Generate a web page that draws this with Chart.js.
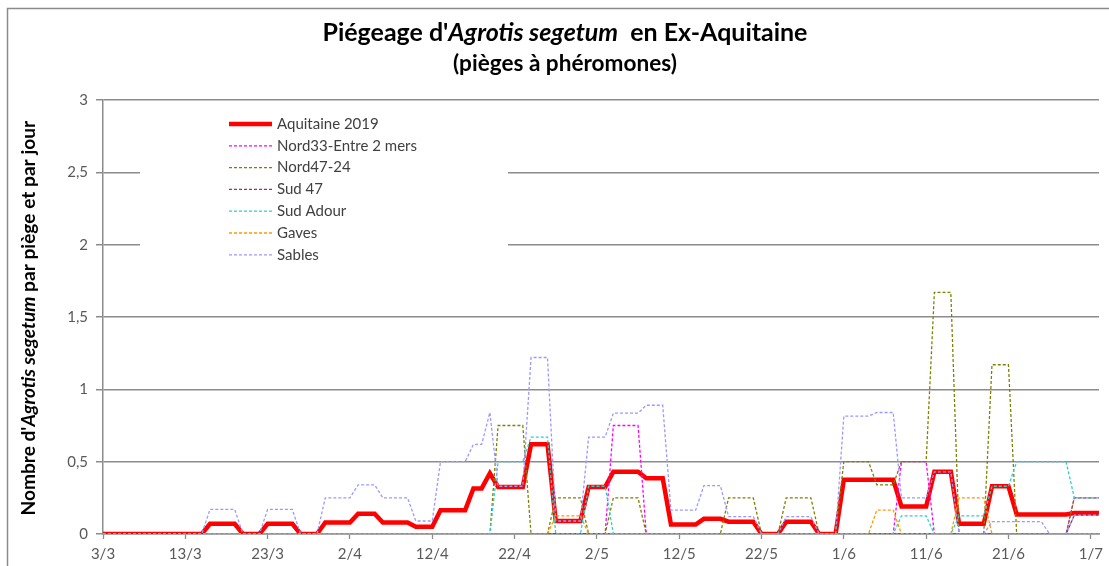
<!DOCTYPE html>
<html>
<head>
<meta charset="utf-8">
<script src="https://cdn.jsdelivr.net/npm/chart.js@4/dist/chart.umd.min.js"></script>
<style>
  html, body { margin: 0; padding: 0; background: #fff; }
  #wrap { width: 1109px; height: 566px; }
</style>
</head>
<body>
<div id="wrap"><canvas id="chart" width="1109" height="566"></canvas></div>
<script>
// one category per day, 3/3/2019 -> 2/7/2019
const days = [];
for (let d = new Date(2019, 2, 3); d <= new Date(2019, 6, 2); d.setDate(d.getDate() + 1)) {
    days.push(d.getDate() + '/' + (d.getMonth() + 1));
}
const tickLabels = ['3/3', '13/3', '23/3', '2/4', '12/4', '22/4', '2/5', '12/5', '22/5', '1/6', '11/6', '21/6', '1/7'];
const yTicks = [0, 0.5, 1, 1.5, 2, 2.5, 3];

// values, one per day
const aquitaine = [
    0,0,0,0,0,0,0,0,0,0,0,0,0,
    0.07,0.07,0.07,0.07, 0,0,0, 0.07,0.07,0.07,0.07, 0,0,0,
    0.08,0.08,0.08,0.08, 0.14,0.14,0.14, 0.08,0.08,0.08,0.08, 0.05,0.05,0.05,
    0.165,0.165,0.165,0.165, 0.315,0.315, 0.42, 0.325,0.325,0.325,0.325,
    0.62,0.62,0.62, 0.09,0.09,0.09,0.09, 0.325,0.325,0.325, 0.43,0.43,0.43,0.43,
    0.385,0.385,0.385, 0.065,0.065,0.065,0.065, 0.105,0.105,0.105, 0.085,0.085,0.085,0.085,
    0,0,0, 0.085,0.085,0.085,0.085, 0,0,0,
    0.375,0.375,0.375,0.375,0.375,0.375,0.375, 0.19,0.19,0.19,0.19, 0.43,0.43,0.43,
    0.07,0.07,0.07,0.07, 0.33,0.33,0.33,
    0.135,0.135,0.135,0.135,0.135,0.135,0.135, 0.145,0.145,0.145,0.145
];
const nord33 = [
    0,0,0,0,0,0,0,0,0,0,0,0,0,0,0,0,0,0,0,0,0,0,0,0,0,0,0,0,0,0,0,
    0,0,0,0,0,0,0,0,0,0,0,0,0,0,0,0,0,0,0,0,0,0,0,0,0,0,0,0,0,0,0,
    0.75,0.75,0.75,0.75,
    0,0,0,0,0,0,0,0,0,0,0,0,0,0,0,0,0,0,0,0,0,0,0,0,0,0,0,0,0,0,0,
    0.5,0.5,0.5,0.5,
    0,0,0,0,0,0,0,0,0,0,0,0,0,0,0,0,0,
    0.25,0.25,0.25,0.25
];
const nord47 = [
    0,0,0,0,0,0,0,0,0,0,0,0,0,0,0,0,0,0,0,0,0,0,0,0,
    0,0,0,0,0,0,0,0,0,0,0,0,0,0,0,0,0,0,0,0,0,0,0,0,
    0.75,0.75,0.75,0.75, 0,0,0, 0.25,0.25,0.25,0.25, 0,0,0, 0.25,0.25,0.25,0.25,
    0,0,0,0,0,0,0,0,0,0, 0.25,0.25,0.25,0.25, 0,0,0, 0.25,0.25,0.25,0.25, 0,0,0,
    0.5,0.5,0.5,0.5, 0.34,0.34,0.34, 0.5,0.5,0.5,0.5, 1.67,1.67,1.67,
    0,0,0,0, 1.17,1.17,1.17, 0,0,0,0,0,0,0, 0.25,0.25,0.25,0.25
];
const sud47 = [
    0,0,0,0,0,0,0,0,0,0,0,0,0,0,0,0,0,0,0,0,0,0,0,0,0,0,0,0,0,0,
    0,0,0,0,0,0,0,0,0,0,0,0,0,0,0,0,0,0,0,0,0,0,0,0,0,0,0,0,0,0,
    0,0,0,0,0,0,0,0,0,0,0,0,0,0,0,0,0,0,0,0,0,0,0,0,0,0,0,0,0,0,
    0,0,0,0,0,0,0,0,0,0,0,0,0,0,0,0,0,0,0,0,0,0,0,0,0,0,0,0,
    0.13,0.13,0.13,0.13
];
const sudAdour = [
    0,0,0,0,0,0,0,0,0,0,0,0,0,0,0,0,0,0,0,0,0,0,0,0,
    0,0,0,0,0,0,0,0,0,0,0,0,0,0,0,0,0,0,0,0,0,0,0,0,
    0.5,0.5,0.5,0.5, 0.67,0.67,0.67, 0,0,0,0, 0.33,0.33,0.33,
    0,0,0,0,0,0,0,0,0,0,0,0,0,0,0,0,0,0,0,0,0,0,0,0,0,0,0,0,0,0,0,0,0,0,0,
    0.125,0.125,0.125,0.125, 0,0,0, 0.125,0.125,0.125,0.125, 0.33,0.33,0.33,
    0.5,0.5,0.5,0.5,0.5,0.5,0.5, 0.25,0.25,0.25,0.25
];
const gaves = [
    0,0,0,0,0,0,0,0,0,0,0,0,0,0,0,0,0,0,0,0,0,0,0,0,0,0,0,0,
    0,0,0,0,0,0,0,0,0,0,0,0,0,0,0,0,0,0,0,0,0,0,0,0,0,0,0,
    0.125,0.125,0.125,0.125,
    0,0,0,0,0,0,0,0,0,0,0,0,0,0,0,0,0,0,0,0,0,0,0,0,0,0,0,0,0,0,0,0,0,0,0,
    0.165,0.165,0.165, 0,0,0,0,0,0,0, 0.25,0.25,0.25,0.25,
    0,0,0,0,0,0,0,0,0,0,0,0,0,0
];
const sables = [
    0,0,0,0,0,0,0,0,0,0,0,0,0,
    0.17,0.17,0.17,0.17, 0,0,0, 0.17,0.17,0.17,0.17, 0,0,0,
    0.25,0.25,0.25,0.25, 0.34,0.34,0.34, 0.25,0.25,0.25,0.25, 0.09,0.09,0.09,
    0.5,0.5,0.5,0.5, 0.62,0.62, 0.84, 0.33,0.33,0.33,0.33,
    1.22,1.22,1.22, 0.09,0.09,0.09,0.09, 0.67,0.67,0.67, 0.835,0.835,0.835,0.835,
    0.89,0.89,0.89, 0.165,0.165,0.165,0.165, 0.335,0.335,0.335, 0.12,0.12,0.12,0.12,
    0,0,0, 0.12,0.12,0.12,0.12, 0,0,0,
    0.815,0.815,0.815,0.815, 0.84,0.84,0.84, 0.25,0.25,0.25,0.25, 0.43,0.43,0.43,
    0,0,0,0, 0.085,0.085,0.085,0.085,0.085,0.085,0.085, 0,0,0, 0.13,0.13,0.13,0.13
];

const FONT = 'Lato, "Open Sans", sans-serif';
const GRID = '#8c8c8c';
const TXT = '#595959';

function dashed(label, data, color, order) {
    return {
        label: label, data: data, borderColor: color, backgroundColor: color,
        borderWidth: 1.3, borderDash: [3, 2], pointRadius: 0, tension: 0, order: order
    };
}

// writes a line of bold text, some parts italic, centred on cx and stretched to the given width
function mixedText(ctx, parts, width, cx, cy) {
    const fontOf = (p, size) => (p.italic ? 'italic ' : '') + 'bold ' + size + 'px ' + FONT;
    let total = 0;
    parts.forEach(p => { ctx.font = fontOf(p, 20); total += ctx.measureText(p.text).width; });
    const size = 20 * width / total;
    let x = cx - width / 2;
    ctx.textAlign = 'left';
    ctx.textBaseline = 'middle';
    parts.forEach(p => {
        ctx.font = fontOf(p, size);
        ctx.fillText(p.text, x, cy);
        x += ctx.measureText(p.text).width;
    });
}

const decorations = {
    id: 'decorations',
    afterDraw(chart) {
        const ctx = chart.ctx;
        ctx.save();
        // frame of the chart
        ctx.strokeStyle = '#8a8a8a';
        ctx.lineWidth = 1.5;
        ctx.strokeRect(7.5, 8.5, 1200, 700);

        ctx.fillStyle = '#000';
        mixedText(ctx, [
            { text: "Piégeage d'" }, { text: 'Agrotis segetum', italic: true }, { text: '  en Ex-Aquitaine' }
        ], 485, 565, 33);
        mixedText(ctx, [{ text: '(pièges à phéromones)' }], 224, 565, 64);

        ctx.translate(29, 318);
        ctx.rotate(-Math.PI / 2);
        mixedText(ctx, [
            { text: "Nombre d'" }, { text: 'Agrotis segetum', italic: true }, { text: ' par piège et par jour' }
        ], 395, 0, 0);
        ctx.restore();

        // legend inside the plot
        ctx.save();
        ctx.fillStyle = '#fff';
        ctx.fillRect(140, 110, 368, 158);
        chart.data.datasets.forEach((ds, i) => {
            const y = 124 + i * 21.8;
            ctx.beginPath();
            ctx.strokeStyle = ds.borderColor;
            ctx.lineWidth = ds.borderWidth;
            ctx.setLineDash(ds.borderDash || []);
            ctx.moveTo(229, y);
            ctx.lineTo(272, y);
            ctx.stroke();
            ctx.setLineDash([]);
            ctx.fillStyle = '#404040';
            ctx.font = '15px ' + FONT;
            ctx.textAlign = 'left';
            ctx.textBaseline = 'middle';
            ctx.fillText(ds.label, 277, y);
        });
        ctx.restore();
    }
};

new Chart(document.getElementById('chart'), {
    type: 'line',
    data: {
        labels: days,
        datasets: [
            { label: 'Aquitaine 2019', data: aquitaine, borderColor: '#ff0000', backgroundColor: '#ff0000',
              borderWidth: 4.5, pointRadius: 0, tension: 0, order: 9 },
            dashed('Nord33-Entre 2 mers', nord33, '#ff00ff', 6),
            dashed('Nord47-24', nord47, '#808000', 5),
            dashed('Sud 47', sud47, '#993366', 4),
            dashed('Sud Adour', sudAdour, '#33cccc', 3),
            dashed('Gaves', gaves, '#ff9900', 1),
            dashed('Sables', sables, '#9999ff', 2)
        ]
    },
    options: {
        responsive: false,
        animation: false,
        layout: { padding: { left: 0, top: 100, right: 10, bottom: 0 } },
        plugins: { legend: { display: false }, title: { display: false }, tooltip: { enabled: false } },
        scales: {
            x: {
                offset: false,
                afterFit: s => { s.height = 32; },
                grid: {
                    drawOnChartArea: false, tickLength: 5, tickWidth: 1.3,
                    tickColor: c => (c.index % 10 === 0 ? GRID : 'rgba(0,0,0,0)')
                },
                border: { color: GRID, width: 1.5 },
                ticks: {
                    autoSkip: false, maxRotation: 0, padding: 6, color: TXT,
                    font: { family: FONT, size: 15 },
                    callback: (v, i) => (i % 10 === 0 ? tickLabels[i / 10] : '')
                }
            },
            y: {
                min: 0, max: 3,
                afterFit: s => { s.width = 103; },
                afterBuildTicks: s => { s.ticks = yTicks.map(v => ({ value: v })); },
                grid: { color: GRID, lineWidth: 1.5, tickLength: 7 },
                border: { color: GRID, width: 1.5 },
                ticks: {
                    padding: 8, color: TXT, font: { family: FONT, size: 15 },
                    callback: v => String(v).replace('.', ',')
                }
            }
        }
    },
    plugins: [decorations]
});
</script>
</body>
</html>
